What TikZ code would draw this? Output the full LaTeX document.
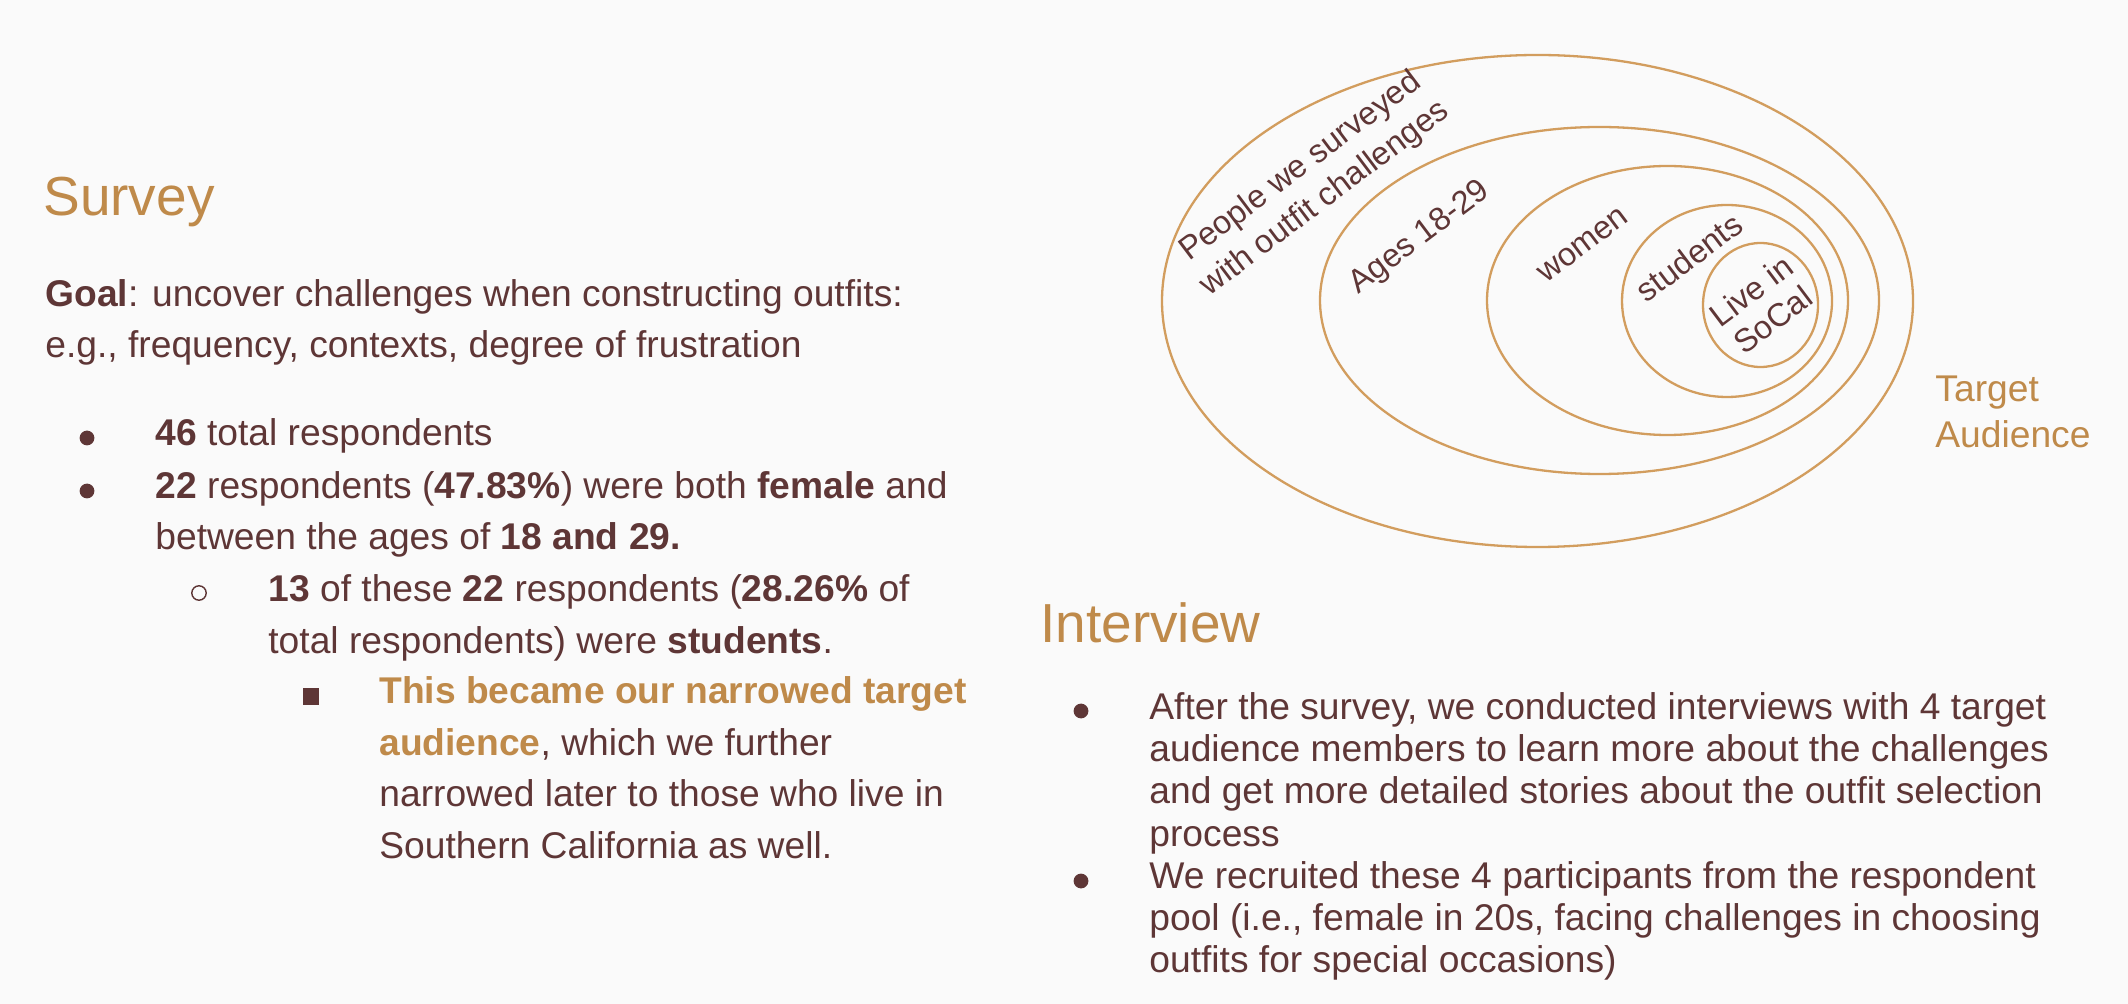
\documentclass[tikz,border=0pt]{standalone}
\usepackage{fontspec}
\setmainfont{Liberation Sans}
\definecolor{bg}{HTML}{FAFAFA}
\definecolor{brn}{HTML}{5E3636}
\definecolor{gld}{HTML}{BF8A4A}
\definecolor{ring}{HTML}{D29D5E}
\newcommand{\bodyfont}{\fontsize{18.6pt}{22pt}\selectfont}
\newcommand{\titlefont}{\fontsize{27.5pt}{32pt}\selectfont}
\newcommand{\lblfont}{\fontsize{16.25pt}{20pt}\selectfont}
\tikzset{
  line/.style={anchor=base west, inner sep=0pt, text=brn, font=\bodyfont},
  ttl/.style={anchor=base west, inner sep=0pt, text=gld, font=\titlefont},
  lbl/.style={inner sep=0pt, text=brn, font=\lblfont, align=center, rotate=37},
  ringline/.style={draw=ring, line width=1.15pt},
  dotb/.style={fill=brn},
}
\begin{document}
\begin{tikzpicture}[x=0.5pt,y=-0.5pt]
\fill[bg] (0,0) rectangle (2128,1004);
\useasboundingbox (0,0) rectangle (2128,1004);

% Survey column
\node[ttl] (survey) at (43,216) {Survey};
\node[line] (goal) at (45,307) {\textbf{Goal}: uncover challenges when constructing outfits:};
\node[line] (eg) at (45,358) {e.g., frequency, contexts, degree of frustration};

\fill[dotb] (87,438) circle[radius=3.7pt];
\node[line] (b1) at (155,446) {\textbf{46} total respondents};
\fill[dotb] (87,491) circle[radius=3.7pt];
\node[line] (b2) at (155,499) {\textbf{22} respondents (\textbf{47.83\%}) were both \textbf{female} and};
\node[line] (b2b) at (155,550) {between the ages of \textbf{18 and 29.}};

\draw[brn, line width=0.7pt] (199,593) circle[radius=3.6pt];
\node[line] (c1) at (268,602) {\textbf{13} of these \textbf{22} respondents (\textbf{28.26\%} of};
\node[line] (c1b) at (268,653) {total respondents) were \textbf{students}.};

\fill[dotb] (303,688) rectangle (319,705);
\node[line] (s1) at (379,703) {\textcolor{gld}{\bfseries This became our narrowed target}};
\node[line] (s1b) at (379,755) {\textcolor{gld}{\bfseries audience}, which we further};
\node[line] (s1c) at (379,806) {narrowed later to those who live in};
\node[line] (s1d) at (379,858) {Southern California as well.};

% Interview column
\node[ttl] (interview) at (1040,642) {Interview};
\fill[dotb] (1081,711) circle[radius=3.7pt];
\node[line] (i1) at (1149,719) {After the survey, we conducted interviews with 4 target};
\node[line] (i2) at (1149,761.3) {audience members to learn more about the challenges};
\node[line] (i3) at (1149,803.6) {and get more detailed stories about the outfit selection};
\node[line] (i4) at (1149,846) {process};
\fill[dotb] (1081,881) circle[radius=3.7pt];
\node[line] (j1) at (1149,888.2) {We recruited these 4 participants from the respondent};
\node[line] (j2) at (1149,930.5) {pool (i.e., female in 20s, facing challenges in choosing};
\node[line] (j3) at (1149,972.8) {outfits for special occasions)};

% Nested ellipses
\draw[ringline] (1537.5,301) ellipse [x radius=187.75pt, y radius=123pt];
\draw[ringline] (1599.5,300.5) ellipse [x radius=139.75pt, y radius=86.75pt];
\draw[ringline] (1667.5,300.5) ellipse [x radius=90.25pt, y radius=67.25pt];
\draw[ringline] (1727,301) ellipse [x radius=52.5pt, y radius=48pt];
\draw[ringline] (1760.5,305) ellipse [x radius=28.75pt, y radius=31pt];

\node[lbl] (lpeople) at (1313,183) {People we surveyed\\with outfit challenges};
\node[lbl] (lages) at (1420,238) {Ages 18-29};
\node[lbl] (lwomen) at (1583,245) {women};
\node[lbl] (lstudents) at (1689,257) {students};
\node[lbl, font=\fontsize{16.25pt}{18pt}\selectfont] (lsocal) at (1762,305) {Live in\\SoCal};

\node[line, text=gld] (target) at (1935,402) {Target};
\node[line, text=gld] (audience) at (1935,448) {Audience};
\end{tikzpicture}
\end{document}
